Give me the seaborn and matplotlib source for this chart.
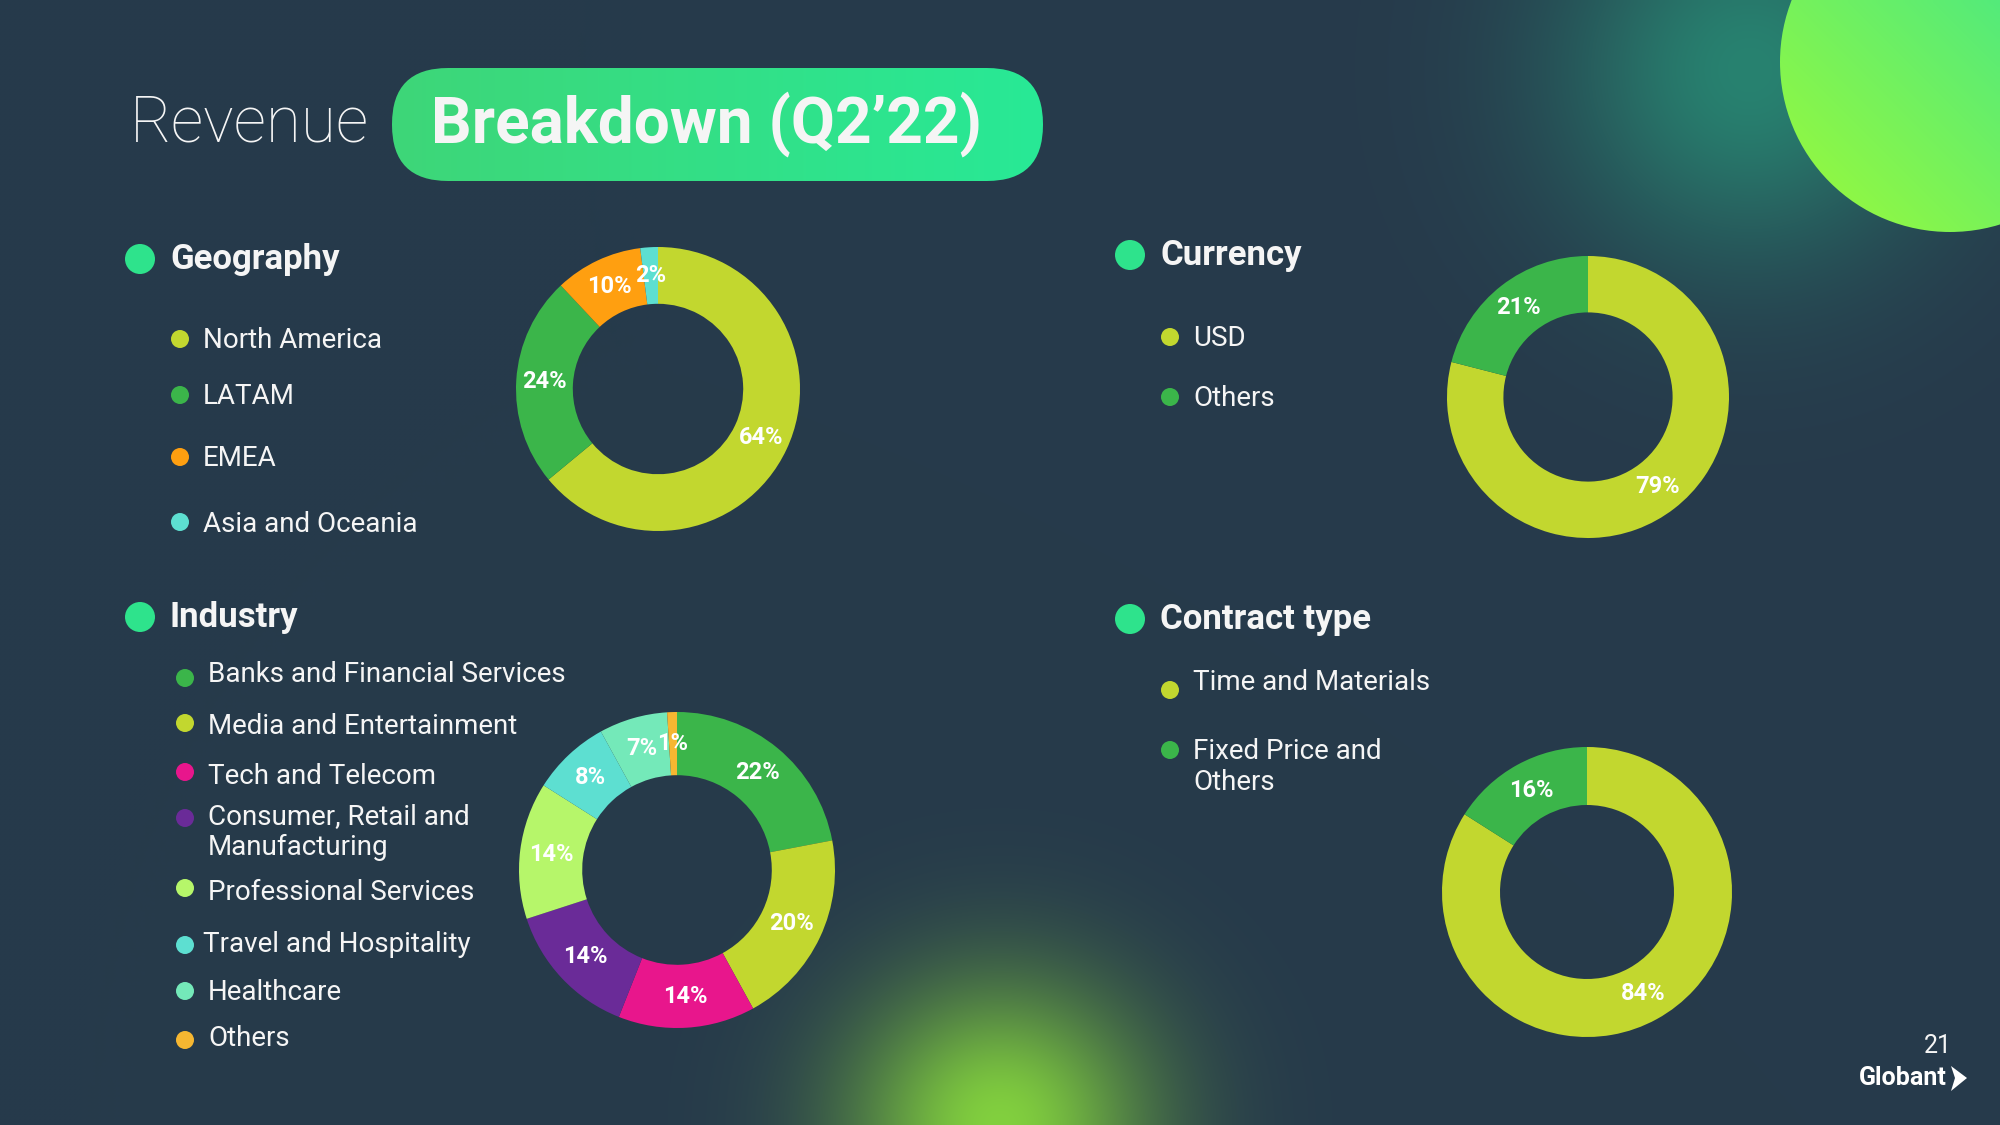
import numpy as np
import matplotlib
matplotlib.use("Agg")
import matplotlib.pyplot as plt
import seaborn as sns
from matplotlib.patches import Circle, FancyBboxPatch, Polygon

sns.set_style("white")
plt.rcParams['font.family'] = ['Roboto', 'DejaVu Sans']

# DATA
geo_labels = ["North America", "LATAM", "EMEA", "Asia and Oceania"]
geo_values = [64, 24, 10, 2]

cur_labels = ["USD", "Others"]
cur_values = [79, 21]

ind_labels = ["Banks and Financial Services", "Media and Entertainment", "Tech and Telecom",
              "Consumer, Retail and\nManufacturing", "Professional Services",
              "Travel and Hospitality", "Healthcare", "Others"]
ind_values = [22, 20, 14, 14, 14, 8, 7, 1]

con_labels = ["Time and Materials", "Fixed Price and\nOthers"]
con_values = [84, 16]

# COLOURS
BG = np.array([38, 58, 75]) / 255
LIME = "#c2d72f"
GREEN = "#3bb54a"
ORANGE = "#ff9f10"
TEAL = "#5ddfd1"
PINK = "#e8168c"
PURPLE = "#6a2b98"
LIGHTLIME = "#b6f66a"
MINT = "#74e9b9"
GOLD = "#f6b731"
HEAD = "#2ee38c"
WHITE = "#f5f5f5"

geo_colors = sns.color_palette([LIME, GREEN, ORANGE, TEAL])
cur_colors = sns.color_palette([LIME, GREEN])
ind_colors = sns.color_palette([GREEN, LIME, PINK, PURPLE, LIGHTLIME, TEAL, MINT, GOLD])
con_colors = sns.color_palette([LIME, GREEN])

W, H = 2000, 1125
fig = plt.figure(figsize=(20, 11.25), dpi=100)
ax = fig.add_axes([0, 0, 1, 1])

# BACKGROUND WITH GLOWS
gx = (np.arange(400) + 0.5) * 5
gy = (np.arange(225) + 0.5) * 5
X, Y = np.meshgrid(gx, gy)
img = np.ones((225, 400, 3)) * BG
a1 = np.exp(-((X - 1750) ** 2 + (Y - 70) ** 2) / (2 * 135 ** 2))
img = img * (1 - a1[..., None]) + np.array([40, 130, 112]) / 255 * a1[..., None]
a2 = np.exp(-((X - 1000) ** 2 / (2 * 105 ** 2) + (Y - 1125) ** 2 / (2 * 100 ** 2)))
img = img * (1 - a2[..., None]) + np.array([130, 208, 62]) / 255 * a2[..., None]
ax.imshow(img, extent=(0, W, H, 0), zorder=0, interpolation="bilinear")

# top right circle with gradient
cx, cy, cr = 1950, 62, 170
u = ((X - cx) - (Y - cy)) / (np.sqrt(2) * cr)
t = np.clip((u + 1) / 2, 0, 1)[..., None]
c0 = np.array([142, 247, 70]) / 255
c1 = np.array([62, 230, 142]) / 255
circ_img = c0 * (1 - t) + c1 * t
im = ax.imshow(circ_img, extent=(0, W, H, 0), zorder=1, interpolation="bilinear")
clip_c = Circle((cx, cy), cr, transform=ax.transData, facecolor="none", edgecolor="none")
ax.add_patch(clip_c)
im.set_clip_path(clip_c)

# title pill with gradient
tx = np.clip((X - 392) / 651, 0, 1)[..., None]
p0 = np.array([62, 214, 120]) / 255
p1 = np.array([40, 233, 150]) / 255
pill_img = p0 * (1 - tx) + p1 * tx
im2 = ax.imshow(pill_img, extent=(0, W, H, 0), zorder=1, interpolation="bilinear")
pill = FancyBboxPatch((392, 68), 651, 113, boxstyle="round,pad=0,rounding_size=56",
                      transform=ax.transData, facecolor="none", edgecolor="none")
ax.add_patch(pill)
im2.set_clip_path(pill)

ax.text(130, 123, "Revenue", fontsize=46, fontweight="light", color=WHITE,
        va="center", ha="left", zorder=3)
ax.text(431, 124, "Breakdown (Q2\u201922)", fontsize=46, fontweight="bold", color=WHITE,
        va="center", ha="left", zorder=3)

# SECTION HEADERS
headers = [("Geography", 140, 259), ("Currency", 1130, 255),
           ("Industry", 140, 617), ("Contract type", 1130, 619)]
for name, hx, hy in headers:
    ax.add_patch(Circle((hx, hy), 15, facecolor=HEAD, edgecolor="none", zorder=3))
    ax.text(hx + 30, hy, name, fontsize=25, fontweight="bold", color=WHITE,
            va="center", ha="left", zorder=3)


def legend(labels, colors, dot_x, dot_ys, text_xs, text_ys):
    for lab, col, dy, txx, tyy in zip(labels, colors, dot_ys, text_xs, text_ys):
        ax.add_patch(Circle((dot_x, dy), 9, facecolor=col, edgecolor="none", zorder=3))
        ax.text(txx, tyy, lab, fontsize=20, color=WHITE, va="center", ha="left",
                zorder=3, linespacing=1.15)


legend(geo_labels, geo_colors, 180, [339, 395, 457, 522], [203] * 4, [341, 397, 459, 524])
legend(cur_labels, cur_colors, 1170, [337, 397], [1193] * 2, [338, 399])
legend(ind_labels, ind_colors, 185,
       [678, 723, 772, 818, 888, 945, 991, 1040],
       [208, 208, 208, 208, 208, 203, 208, 208],
       [674, 727, 777, 832, 893, 944, 993, 1039])
legend(con_labels, con_colors, 1170, [690, 750], [1193] * 2, [683, 767])


# DONUTS (y axis is inverted, so counterclock=True draws clockwise on screen)
def donut(values, colors, center, r):
    ax.pie(values, colors=colors, startangle=-90, counterclock=True, radius=r,
           center=center, pctdistance=0.8,
           autopct=lambda p: f"{p:.0f}%",
           wedgeprops=dict(width=0.4 * r, edgecolor="none"),
           textprops=dict(color="white", fontsize=17, fontweight="bold"))


donut(geo_values, geo_colors, (658, 389), 142)
donut(cur_values, cur_colors, (1588, 397), 141)
donut(ind_values, ind_colors, (677, 870), 158)
donut(con_values, con_colors, (1587, 892), 145)

# FOOTER
ax.text(1938, 1046, "21", fontsize=18, color=WHITE,
        va="center", ha="center", zorder=3)
ax.text(1859, 1078, "Globant", fontsize=18, fontweight="bold", color="white",
        va="center", ha="left", zorder=3)
ax.add_patch(Polygon([(1951, 1066), (1967, 1078), (1951, 1091), (1955, 1078)],
                     closed=True, facecolor="white", edgecolor="none", zorder=3))

ax.set_xlim(0, W)
ax.set_ylim(H, 0)
ax.set_aspect("equal")
ax.axis("off")

fig.savefig("out.png", dpi=100, facecolor=BG)
